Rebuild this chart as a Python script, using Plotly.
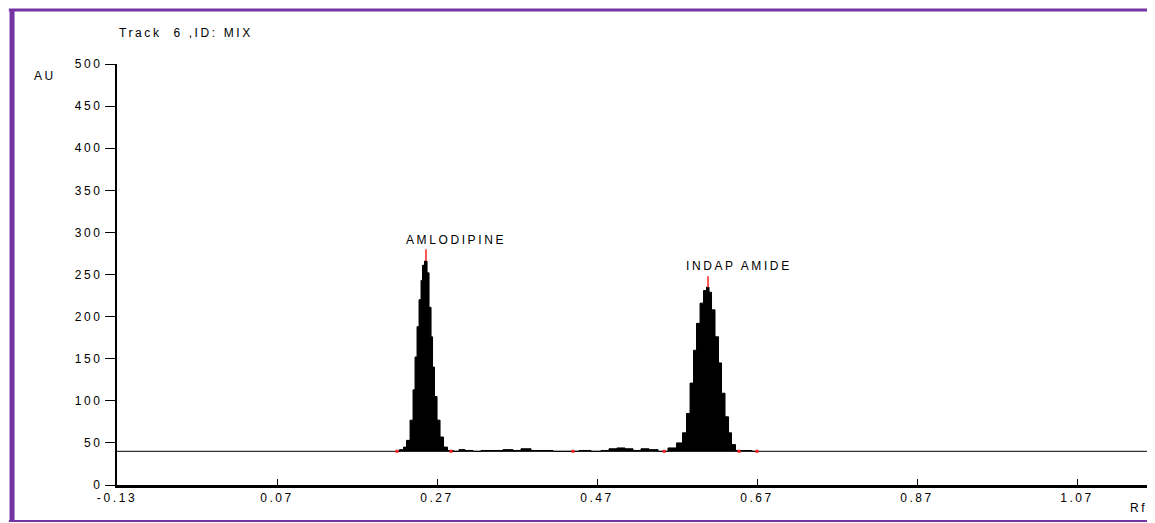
import plotly.graph_objects as go

# ---- data ----
x_ticks = [-0.13, 0.07, 0.27, 0.47, 0.67, 0.87, 1.07]
x_ticktext = ["-0.13", "0.07", "0.27", "0.47", "0.67", "0.87", "1.07"]
y_ticks = [0, 50, 100, 150, 200, 250, 300, 350, 400, 450, 500]

baseline_level = 40

aml_rf = [0.2200, 0.2263, 0.2300, 0.2338, 0.2388, 0.2413, 0.2438, 0.2463, 0.2488, 0.2513, 0.2525,
          0.2563, 0.2588, 0.2613, 0.2638, 0.2650, 0.2688, 0.2713, 0.2763, 0.2800, 0.2863]
aml_au = [40, 42, 45, 53, 77, 113, 152, 188, 220, 243, 261,
          266, 252, 211, 176, 140, 105, 77, 57, 45, 41]

noise_rf = [0.295, 0.300, 0.310, 0.320, 0.330, 0.345, 0.360, 0.370, 0.380, 0.395, 0.410,
            0.420, 0.440, 0.455, 0.470, 0.480, 0.490, 0.500, 0.510, 0.520, 0.530, 0.540]
noise_au = [40, 42, 41, 40, 41, 41, 42, 41, 43, 41, 41,
            40, 40, 41, 40, 41, 43, 44, 43, 41, 43, 42]

ind_rf = [0.5525, 0.5650, 0.5738, 0.5800, 0.5838, 0.5888, 0.5925, 0.5963, 0.6013, 0.6050, 0.6088,
          0.6113, 0.6150, 0.6200, 0.6238, 0.6275, 0.6325, 0.6363, 0.6400, 0.6463, 0.6575, 0.6700]
ind_au = [40, 44, 50, 62, 85, 121, 160, 192, 216, 231, 235,
          229, 208, 176, 145, 109, 81, 62, 48, 41, 41, 40]

peak_names = ["AMLODIPINE", "INDAP AMIDE"]
peak_rf = [0.25625, 0.60875]
peak_au = [266, 235]
peak_mark_top = [280, 248]
label_rf = [0.29375, 0.6475]
label_au = [291, 260]

boundary_rf = [0.2200, 0.2875, 0.4400, 0.5540, 0.6475, 0.6700]

x_range = [-0.13, 1.1575]
y_range = [0, 500]

FONT = "Liberation Sans, Arial, sans-serif"

def spaced(t, sp=2.6):
    return f'<span style="letter-spacing:{sp}px">{t}</span>'

signal_rf = aml_rf + noise_rf + ind_rf
signal_au = aml_au + noise_au + ind_au

fig = go.Figure()

# baseline across the whole track
fig.add_trace(go.Scatter(x=x_range, y=[baseline_level, baseline_level], mode="lines",
                         line=dict(color="black", width=1), hoverinfo="skip", showlegend=False))
# chromatogram signal, filled down to the baseline
fig.add_trace(go.Scatter(x=signal_rf, y=signal_au, mode="lines", fill="tonexty",
                         fillcolor="black", line=dict(color="black", width=1, shape="hvh"),
                         showlegend=False))
# red peak-maximum markers
px, py = [], []
for r, a, t in zip(peak_rf, peak_au, peak_mark_top):
    px += [r, r, None]
    py += [a, t, None]
fig.add_trace(go.Scatter(x=px, y=py, mode="lines", line=dict(color="#ff2020", width=1.5),
                         showlegend=False, hoverinfo="skip"))
# red peak boundary dots
fig.add_trace(go.Scatter(x=boundary_rf, y=[baseline_level] * len(boundary_rf), mode="markers",
                         marker=dict(color="#ff2020", size=3, symbol="square"),
                         showlegend=False, hoverinfo="skip"))

annotations = []
for name, r, a in zip(peak_names, label_rf, label_au):
    annotations.append(dict(x=r, y=a, xref="x", yref="y", text=spaced(name), showarrow=False,
                            font=dict(family=FONT, size=12, color="black"),
                            xanchor="center", yanchor="middle"))
annotations.append(dict(x=0.0, y=1.0736, xref="paper", yref="paper", text=spaced("Track  6 ,ID: MIX"),
                        showarrow=False, font=dict(family=FONT, size=12, color="black"),
                        xanchor="left", yanchor="middle"))
annotations.append(dict(x=-0.0699, y=0.9715, xref="paper", yref="paper", text=spaced("AU"),
                        showarrow=False, font=dict(family=FONT, size=12, color="black"),
                        xanchor="center", yanchor="middle"))
annotations.append(dict(x=0.9922, y=-0.0546, xref="paper", yref="paper", text=spaced("Rf"),
                        showarrow=False, font=dict(family=FONT, size=12, color="black"),
                        xanchor="center", yanchor="middle"))

PURPLE = "#7434A4"
shapes = [
    dict(type="line", xref="paper", yref="paper", x0=-0.1019, x1=-0.1019, y0=1.1290, y1=-0.0850,
         line=dict(color=PURPLE, width=5)),
    dict(type="line", xref="paper", yref="paper", x0=-0.1050, x1=1.02, y0=1.1283, y1=1.1283,
         line=dict(color=PURPLE, width=3)),
    dict(type="line", xref="paper", yref="paper", x0=-0.1050, x1=1.02, y0=-0.0855, y1=-0.0855,
         line=dict(color=PURPLE, width=2)),
]

# page body has an 8px margin, so the figure is sized/offset to land on the reference pixels
fig.update_layout(
    width=1147, height=515, autosize=False,
    margin=dict(l=109, r=8, t=56, b=38, pad=0),
    paper_bgcolor="white", plot_bgcolor="white",
    font=dict(family=FONT, size=12, color="black"),
    annotations=annotations, shapes=shapes, showlegend=False,
    xaxis=dict(range=x_range, tickvals=x_ticks, ticktext=[spaced(t) for t in x_ticktext],
               showgrid=False, zeroline=False, showline=True, linecolor="black", linewidth=3,
               ticks="inside", ticklen=6, tickwidth=1, tickcolor="black",
               tickfont=dict(family=FONT, size=12)),
    yaxis=dict(range=y_range, tickvals=y_ticks, ticktext=[spaced(str(v)) for v in y_ticks],
               showgrid=False, zeroline=False, showline=True, linecolor="black", linewidth=2,
               ticks="outside", ticklen=10, tickwidth=1, tickcolor="black",
               tickfont=dict(family=FONT, size=12)),
)

fig.write_html("out.html")
